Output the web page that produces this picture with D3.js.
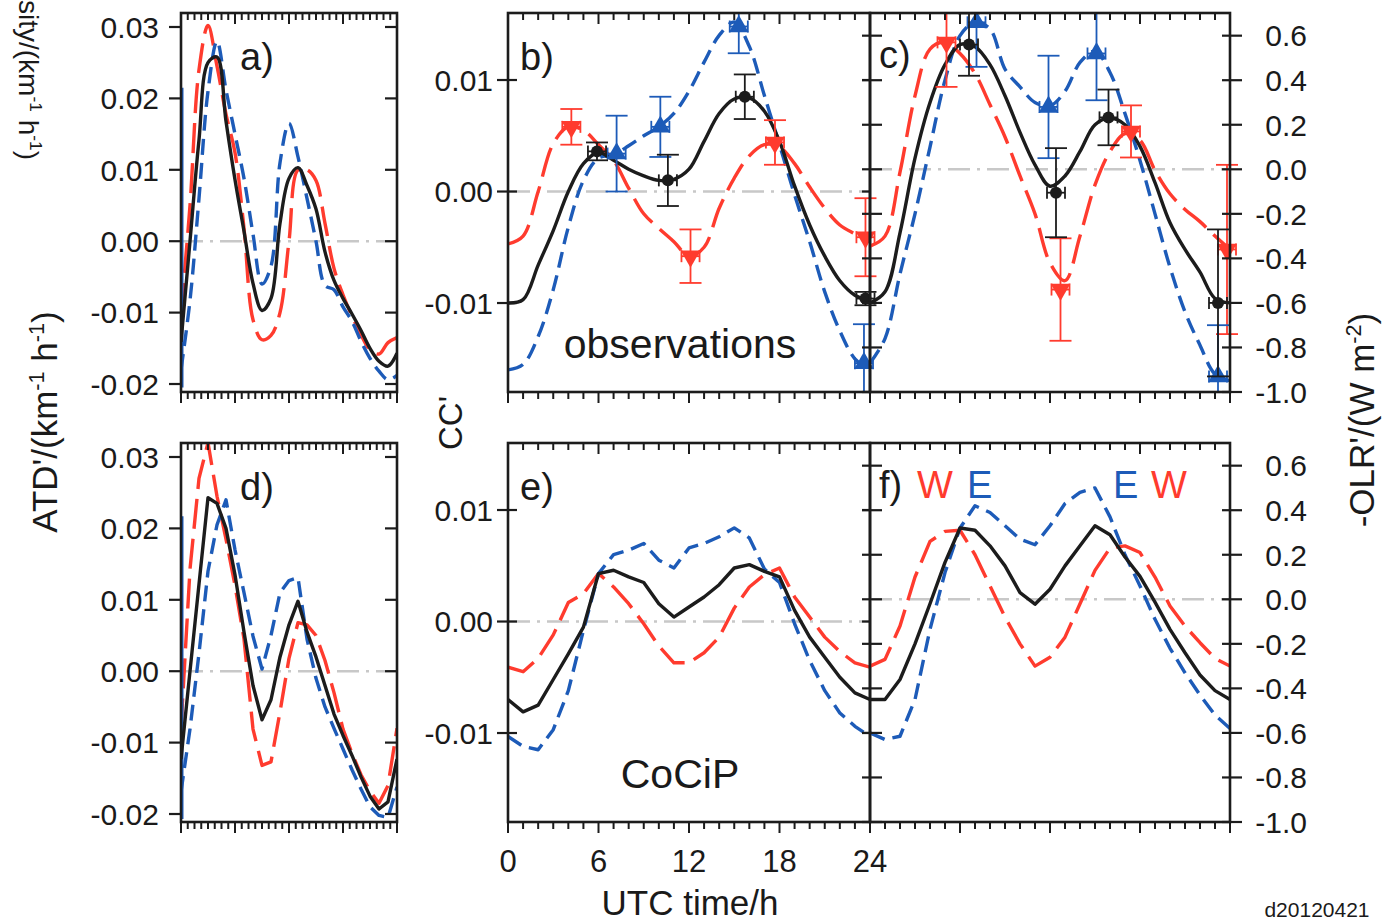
<!DOCTYPE html>
<html>
<head>
<meta charset="utf-8">
<script src="https://cdn.jsdelivr.net/npm/d3@7"></script>
<style>
  body { margin: 0; background: #fff; }
  svg { display: block; }
  text { font-family: "Liberation Sans", Arial, Helvetica, sans-serif; fill: #1a1a1a; }
</style>
</head>
<body>
<svg id="fig" width="1383" height="923"></svg>
<script>
// ---------------- data ----------------
const hours = d3.range(0, 25);            // UTC hour 0..24
const timeTicks = [0, 6, 12, 18, 24];
const atdTicks = [-0.02, -0.01, 0.00, 0.01, 0.02, 0.03];
const ccTicks = [-0.01, 0.00, 0.01];
const olrTicks = [-1.0, -0.8, -0.6, -0.4, -0.2, 0.0, 0.2, 0.4, 0.6];

// a) ATD' observations (all / west / east)
const atdObsAll  = [-0.0141, 0.0000, 0.0142, 0.0250, 0.0258, 0.0168, 0.0086, 0.0014, -0.0059, -0.0097, -0.0080, 0.0025, 0.0088, 0.0103, 0.0078, 0.0045, -0.0015, -0.0055, -0.0080, -0.0102, -0.0125, -0.0150, -0.0168, -0.0175, -0.0157];
const atdObsWest = [-0.0100, 0.0050, 0.0240, 0.0302, 0.0245, 0.0178, 0.0124, 0.0018, -0.0110, -0.0138, -0.0132, -0.0100, 0.0000, 0.0100, 0.0100, 0.0085, 0.0025, -0.0038, -0.0075, -0.0105, -0.0131, -0.0152, -0.0158, -0.0142, -0.0135];
const atdObsEast = [-0.0180, -0.0083, 0.0060, 0.0210, 0.0280, 0.0212, 0.0150, 0.0088, 0.0010, -0.0060, -0.0035, 0.0110, 0.0165, 0.0118, 0.0060, 0.0000, -0.0062, -0.0068, -0.0092, -0.0112, -0.0140, -0.0164, -0.0182, -0.0194, -0.0188];
const atdObsEastEdge = [0.0215, -0.0205];

// b) CC' observations
const ccObsAll  = [-0.0100, -0.0097, -0.0066, -0.0035, 0.0000, 0.0025, 0.0035, 0.0028, 0.0020, 0.0014, 0.0010, 0.0011, 0.0020, 0.0045, 0.0070, 0.0083, 0.0084, 0.0072, 0.0045, 0.0005, -0.0030, -0.0058, -0.0080, -0.0093, -0.0098];
const ccObsWest = [-0.0047, -0.0040, 0.0000, 0.0043, 0.0058, 0.0055, 0.0042, 0.0028, 0.0003, -0.0020, -0.0033, -0.0045, -0.0058, -0.0050, -0.0015, 0.0012, 0.0032, 0.0042, 0.0040, 0.0025, 0.0004, -0.0015, -0.0030, -0.0038, -0.0045];
const ccObsEast = [-0.0160, -0.0155, -0.0130, -0.0088, -0.0032, 0.0010, 0.0030, 0.0033, 0.0041, 0.0050, 0.0058, 0.0070, 0.0090, 0.0116, 0.0140, 0.0152, 0.0130, 0.0086, 0.0042, -0.0003, -0.0045, -0.0090, -0.0125, -0.0150, -0.0160];
// satellite overpass means: [hour, value, standard error]
const ccObsPointsAll  = [[5.9, 0.0036, 0.0008], [10.6, 0.0010, 0.0023], [15.7, 0.0085, 0.0020], [23.7, -0.0096, 0.0006]];
const ccObsPointsWest = [[4.2, 0.0058, 0.0016], [12.1, -0.0058, 0.0024], [17.7, 0.0044, 0.0020], [23.7, -0.0041, 0.0035]];
const ccObsPointsEast = [[7.2, 0.0034, 0.0034], [10.1, 0.0058, 0.0027], [15.3, 0.0148, 0.0024], [23.6, -0.0154, 0.0035]];

// c) -OLR' observations
const olrObsAll  = [-0.600, -0.550, -0.285, 0.050, 0.300, 0.470, 0.560, 0.550, 0.470, 0.330, 0.166, 0.020, -0.076, -0.030, 0.080, 0.200, 0.230, 0.200, 0.103, -0.060, -0.240, -0.360, -0.462, -0.580, -0.600];
const olrObsWest = [-0.345, -0.300, -0.013, 0.330, 0.540, 0.570, 0.520, 0.430, 0.290, 0.145, -0.030, -0.200, -0.420, -0.500, -0.300, -0.070, 0.080, 0.160, 0.130, -0.005, -0.110, -0.180, -0.235, -0.300, -0.360];
const olrObsEast = [-0.870, -0.760, -0.470, -0.200, 0.100, 0.400, 0.600, 0.660, 0.630, 0.450, 0.370, 0.300, 0.285, 0.350, 0.480, 0.530, 0.435, 0.250, 0.040, -0.200, -0.440, -0.640, -0.790, -0.920, -0.950];
const olrObsPointsAll  = [[6.6, 0.56, 0.14], [12.4, -0.105, 0.20], [15.9, 0.233, 0.125], [23.2, -0.60, 0.33]];
const olrObsPointsWest = [[5.1, 0.57, 0.20], [12.7, -0.54, 0.23], [17.4, 0.17, 0.117], [23.8, -0.36, 0.38]];
const olrObsPointsEast = [[7.1, 0.66, 0.20], [11.9, 0.28, 0.23], [15.1, 0.52, 0.21], [23.2, -0.93, 0.23]];

// d) ATD' model (CoCiP)
const atdModAll  = [-0.0123, 0.0000, 0.0122, 0.0243, 0.0235, 0.0200, 0.0135, 0.0055, -0.0020, -0.0068, -0.0040, 0.0020, 0.0065, 0.0098, 0.0055, 0.0020, -0.0020, -0.0060, -0.0090, -0.0118, -0.0148, -0.0175, -0.0193, -0.0183, -0.0123];
const atdModWest = [-0.0080, 0.0143, 0.0270, 0.0320, 0.0245, 0.0185, 0.0120, 0.0045, -0.0081, -0.0132, -0.0127, -0.0057, 0.0018, 0.0068, 0.0065, 0.0050, 0.0015, -0.0030, -0.0081, -0.0115, -0.0145, -0.0168, -0.0185, -0.0160, -0.0080];
const atdModEast = [-0.0169, -0.0081, 0.0025, 0.0140, 0.0205, 0.0240, 0.0170, 0.0110, 0.0049, 0.0003, 0.0050, 0.0110, 0.0127, 0.0131, 0.0045, -0.0010, -0.0050, -0.0080, -0.0109, -0.0138, -0.0165, -0.0190, -0.0202, -0.0205, -0.0162];
const atdModEastEdge = [0.0217, -0.0207];

// e) CC' model
const ccModAll  = [-0.0070, -0.0081, -0.0075, -0.0052, -0.0029, -0.0005, 0.0043, 0.0046, 0.0040, 0.0035, 0.0016, 0.0004, 0.0013, 0.0022, 0.0033, 0.0048, 0.0051, 0.0045, 0.0040, 0.0010, -0.0014, -0.0032, -0.0050, -0.0064, -0.0070];
const ccModWest = [-0.0041, -0.0045, -0.0033, -0.0012, 0.0017, 0.0025, 0.0043, 0.0031, 0.0016, -0.0002, -0.0022, -0.0037, -0.0037, -0.0028, -0.0014, 0.0012, 0.0031, 0.0042, 0.0048, 0.0022, 0.0004, -0.0014, -0.0027, -0.0037, -0.0041];
const ccModEast = [-0.0103, -0.0112, -0.0115, -0.0097, -0.0062, -0.0008, 0.0043, 0.0060, 0.0064, 0.0070, 0.0055, 0.0048, 0.0066, 0.0070, 0.0076, 0.0084, 0.0075, 0.0047, 0.0035, -0.0002, -0.0035, -0.0062, -0.0082, -0.0094, -0.0103];

// f) -OLR' model
const olrModAll  = [-0.45, -0.45, -0.36, -0.20, -0.02, 0.166, 0.32, 0.31, 0.24, 0.15, 0.03, -0.022, 0.045, 0.15, 0.24, 0.33, 0.29, 0.19, 0.103, -0.013, -0.135, -0.24, -0.34, -0.41, -0.45];
const olrModWest = [-0.30, -0.27, -0.12, 0.10, 0.26, 0.305, 0.31, 0.20, 0.06, -0.08, -0.20, -0.30, -0.26, -0.17, -0.02, 0.13, 0.23, 0.24, 0.21, 0.10, -0.03, -0.12, -0.195, -0.265, -0.30];
const olrModEast = [-0.60, -0.63, -0.615, -0.45, -0.135, 0.12, 0.32, 0.42, 0.39, 0.33, 0.27, 0.245, 0.33, 0.43, 0.48, 0.50, 0.37, 0.20, 0.06, -0.09, -0.22, -0.33, -0.43, -0.52, -0.58];

// ---------------- layout ----------------
const rows = [[13, 392], [443, 822]];
const colA = [181, 397], colB = [508, 870], colC = [870, 1230];
const INK = "#1c1c1c";
const STYLE = {
  all:  { stroke: "#1c1c1c", dash: null },
  west: { stroke: "#ff3b2e", dash: "30,10" },
  east: { stroke: "#1d5bb8", dash: "16,8" }
};

const loc = d3.formatLocale({ decimal: ".", thousands: ",", grouping: [3], currency: ["", ""], minus: "-" });
const fmt2 = loc.format(".2f"), fmt1 = loc.format(".1f");

const svg = d3.select("#fig");
const defs = svg.append("defs");
let clipN = 0;
function clip(x0, y0, x1, y1) {
  const id = "clip" + (clipN++);
  defs.append("clipPath").attr("id", id).append("rect")
    .attr("x", x0).attr("y", y0).attr("width", x1 - x0).attr("height", y1 - y0);
  return `url(#${id})`;
}

function yScales(r) {
  return {
    atd: d3.scaleLinear().domain([-0.02112, 0.03196]).range([r[1], r[0]]),
    cc:  d3.scaleLinear().domain([-0.01798, 0.01601]).range([r[1], r[0]]),
    olr: d3.scaleLinear().domain([-1.0, 0.7018]).range([r[1], r[0]])
  };
}

function seg(g, x1, y1, x2, y2, color, w) {
  g.append("line").attr("x1", x1).attr("y1", y1).attr("x2", x2).attr("y2", y2)
    .attr("stroke", color || INK).attr("stroke-width", w || 2.2);
}

// zero reference line
function zeroLine(g, xs, ys, clipUrl) {
  g.append("line").attr("clip-path", clipUrl)
    .attr("x1", xs(0)).attr("x2", xs(24)).attr("y1", ys(0)).attr("y2", ys(0))
    .attr("stroke", "#c8c8c8").attr("stroke-width", 2.6).attr("stroke-dasharray", "22,7,3,7");
}

function series(g, xs, ys, vals, st, smooth, clipUrl) {
  const line = d3.line().x((d, i) => xs(hours[i])).y(d => ys(d))
    .curve(smooth ? d3.curveCatmullRom.alpha(0.5) : d3.curveLinear);
  const p = g.append("path").datum(vals).attr("d", line).attr("clip-path", clipUrl)
    .attr("fill", "none").attr("stroke", st.stroke).attr("stroke-width", 3.4)
    .attr("stroke-linejoin", "round");
  if (st.dash) p.attr("stroke-dasharray", st.dash);
}

function edgeLine(g, xs, ys, vals, st, clipUrl) {
  g.append("line").attr("clip-path", clipUrl)
    .attr("x1", xs(0) + 1).attr("x2", xs(0) + 1).attr("y1", ys(vals[0])).attr("y2", ys(vals[1]))
    .attr("stroke", st.stroke).attr("stroke-width", 3);
}

// overpass means with error bars
function points(g, xs, ys, pts, st, shape, clipUrl) {
  const eg = g.append("g").attr("clip-path", clipUrl);
  pts.forEach(([t, v, e]) => {
    const cx = xs(t), cy = ys(v), ya = ys(v + e), yb = ys(v - e);
    const xl = xs(t - 0.6), xr = xs(t + 0.6);
    seg(eg, cx, ya, cx, yb, st.stroke, 1.8);
    seg(eg, cx - 11, ya, cx + 11, ya, st.stroke, 1.8);
    seg(eg, cx - 11, yb, cx + 11, yb, st.stroke, 1.8);
    seg(eg, xl, cy, xr, cy, st.stroke, 1.8);
    seg(eg, xl, cy - 6, xl, cy + 6, st.stroke, 1.8);
    seg(eg, xr, cy - 6, xr, cy + 6, st.stroke, 1.8);
    if (shape === "circle") {
      eg.append("circle").attr("cx", cx).attr("cy", cy).attr("r", 6).attr("fill", st.stroke);
    } else {
      const rot = shape === "down" ? 180 : 0;
      eg.append("path").attr("d", d3.symbol().type(d3.symbolTriangle).size(170)())
        .attr("transform", `translate(${cx},${cy}) rotate(${rot})`).attr("fill", st.stroke);
    }
  });
}

// frame with time ticks on top (inward) and bottom (outward)
function frame(g, x0, x1, y0, y1, xs, tvals, majorEvery) {
  tvals.forEach((t, i) => {
    const major = i % majorEvery === 0;
    const L = major ? 11 : 7;
    const x = xs(t);
    seg(g, x, y0, x, y0 + L, INK, 2);
    seg(g, x, y1, x, y1 + L, INK, 2);
  });
  g.append("rect").attr("x", x0).attr("y", y0).attr("width", x1 - x0).attr("height", y1 - y0)
    .attr("fill", "none").attr("stroke", INK).attr("stroke-width", 2.6);
}

function label(g, x, y, str, size, color, anchor) {
  return g.append("text").attr("x", x).attr("y", y).attr("font-size", size)
    .attr("text-anchor", anchor || "start").style("fill", color || "#1a1a1a").text(str);
}

const hourTicks = d3.range(0, 25, 1);
const atdXTicks = d3.range(0, 24.001, 0.75);

const panelDefs = [
  { row: 0, obs: true,  atd: [atdObsAll, atdObsWest, atdObsEast, atdObsEastEdge],
    cc: [ccObsAll, ccObsWest, ccObsEast], olr: [olrObsAll, olrObsWest, olrObsEast],
    ccPts: [ccObsPointsAll, ccObsPointsWest, ccObsPointsEast],
    olrPts: [olrObsPointsAll, olrObsPointsWest, olrObsPointsEast],
    letters: ["a)", "b)", "c)"] },
  { row: 1, obs: false, atd: [atdModAll, atdModWest, atdModEast, atdModEastEdge],
    cc: [ccModAll, ccModWest, ccModEast], olr: [olrModAll, olrModWest, olrModEast],
    letters: ["d)", "e)", "f)"] }
];

panelDefs.forEach(P => {
  const r = rows[P.row];
  const Y = yScales(r);
  const smooth = P.obs;
  const dy = r[0] - 13;

  // ---- ATD panel (a / d)
  {
    const g = svg.append("g");
    const xs = d3.scaleLinear().domain([0, 24]).range(colA);
    const cu = clip(colA[0], r[0], colA[1], r[1]);
    zeroLine(g, xs, Y.atd, cu);
    series(g, xs, Y.atd, P.atd[1], STYLE.west, smooth, cu);
    series(g, xs, Y.atd, P.atd[2], STYLE.east, smooth, cu);
    edgeLine(g, xs, Y.atd, P.atd[3], STYLE.east, cu);
    series(g, xs, Y.atd, P.atd[0], STYLE.all, smooth, cu);
    frame(g, colA[0], colA[1], r[0], r[1], xs, atdXTicks, 8);
    atdTicks.forEach(v => {
      const y = Y.atd(v);
      seg(g, colA[0] - 12, y, colA[0], y, INK, 2.2);
      seg(g, colA[1] - 12, y, colA[1], y, INK, 2.2);
      label(g, 159, y, fmt2(v), 30, null, "end").attr("dy", "0.36em");
    });
    label(g, 240, 70 + dy, P.letters[0], 38);
  }

  // ---- CC panel (b / e)
  {
    const g = svg.append("g");
    const xs = d3.scaleLinear().domain([0, 24]).range(colB);
    const cu = clip(colB[0], r[0], colB[1], r[1]);
    const cuPts = clip(colB[0] - 30, r[0], colB[1] + 30, r[1]);
    zeroLine(g, xs, Y.cc, cu);
    series(g, xs, Y.cc, P.cc[1], STYLE.west, smooth, cu);
    series(g, xs, Y.cc, P.cc[2], STYLE.east, smooth, cu);
    series(g, xs, Y.cc, P.cc[0], STYLE.all, smooth, cu);
    if (P.ccPts) {
      points(g, xs, Y.cc, P.ccPts[1], STYLE.west, "down", cuPts);
      points(g, xs, Y.cc, P.ccPts[2], STYLE.east, "up", cuPts);
      points(g, xs, Y.cc, P.ccPts[0], STYLE.all, "circle", cuPts);
    }
    frame(g, colB[0], colB[1], r[0], r[1], xs, hourTicks, 6);
    ccTicks.forEach(v => {
      const y = Y.cc(v);
      seg(g, colB[0] - 11, y, colB[0] + 9, y, INK, 2.2);
      seg(g, colB[1] - 8, y, colB[1], y, INK, 2.2);
      label(g, 493, y, fmt2(v), 30, null, "end").attr("dy", "0.36em");
    });
    label(g, 520, 70 + dy, P.letters[1], 38);
    if (P.row === 1) {
      timeTicks.forEach(t => label(g, xs(t), 872, String(t), 31, null, "middle"));
    }
  }

  // ---- OLR panel (c / f)
  {
    const g = svg.append("g");
    const xs = d3.scaleLinear().domain([0, 24]).range(colC);
    const cu = clip(colC[0], r[0], colC[1], r[1]);
    const cuPts = clip(colC[0] - 30, r[0], colC[1] + 30, r[1]);
    zeroLine(g, xs, Y.olr, cu);
    series(g, xs, Y.olr, P.olr[1], STYLE.west, smooth, cu);
    series(g, xs, Y.olr, P.olr[2], STYLE.east, smooth, cu);
    series(g, xs, Y.olr, P.olr[0], STYLE.all, smooth, cu);
    if (P.olrPts) {
      points(g, xs, Y.olr, P.olrPts[1], STYLE.west, "down", cuPts);
      points(g, xs, Y.olr, P.olrPts[2], STYLE.east, "up", cuPts);
      points(g, xs, Y.olr, P.olrPts[0], STYLE.all, "circle", cuPts);
    }
    frame(g, colC[0], colC[1], r[0], r[1], xs, hourTicks, 6);
    olrTicks.forEach(v => {
      const y = Y.olr(v);
      seg(g, colC[0] - 8, y, colC[0] + 12, y, INK, 2.2);
      seg(g, colC[1] - 8, y, colC[1] + 12, y, INK, 2.2);
      label(g, 1307, y, fmt1(v), 30, null, "end").attr("dy", "0.36em");
    });
    label(g, 879, 68 + dy, P.letters[2], 38);
    if (P.row === 1) {
      label(g, 917, 498, "W", 38, STYLE.west.stroke);
      label(g, 967, 498, "E", 38, STYLE.east.stroke);
      label(g, 1113, 498, "E", 38, STYLE.east.stroke);
      label(g, 1151, 498, "W", 38, STYLE.west.stroke);
    }
  }
});

// panel captions
label(svg, 680, 358, "observations", 41, null, "middle");
label(svg, 680, 788, "CoCiP", 41, null, "middle");

// axis titles
function supText(g, x, y, rot, size, parts, anchor) {
  const t = g.append("text").attr("transform", `translate(${x},${y}) rotate(${rot})`)
    .attr("font-size", size).attr("text-anchor", anchor || "middle");
  let raised = false;
  parts.forEach(([s, sup]) => {
    const sp = t.append("tspan").text(s);
    if (sup && !raised) { sp.attr("dy", -size * 0.38).attr("font-size", size * 0.62); raised = true; }
    else if (!sup && raised) { sp.attr("dy", size * 0.38); raised = false; }
  });
  return t;
}
supText(svg, 57, 422, -90, 35, [["ATD'/(km"], ["-1", true], [" h"], ["-1", true], [")"]]);
supText(svg, 462, 423, -90, 33, [["CC'"]]);
supText(svg, 1374, 420, -90, 35, [["-OLR'/(W m"], ["-2", true], [")"]]);
supText(svg, 19, 160, 90, 28, [["Density/(km"], ["-1", true], [" h"], ["-1", true], [")"]], "end");

label(svg, 690, 915, "UTC time/h", 35, null, "middle");
label(svg, 1317, 917, "d20120421", 21, null, "middle");
</script>
</body>
</html>
